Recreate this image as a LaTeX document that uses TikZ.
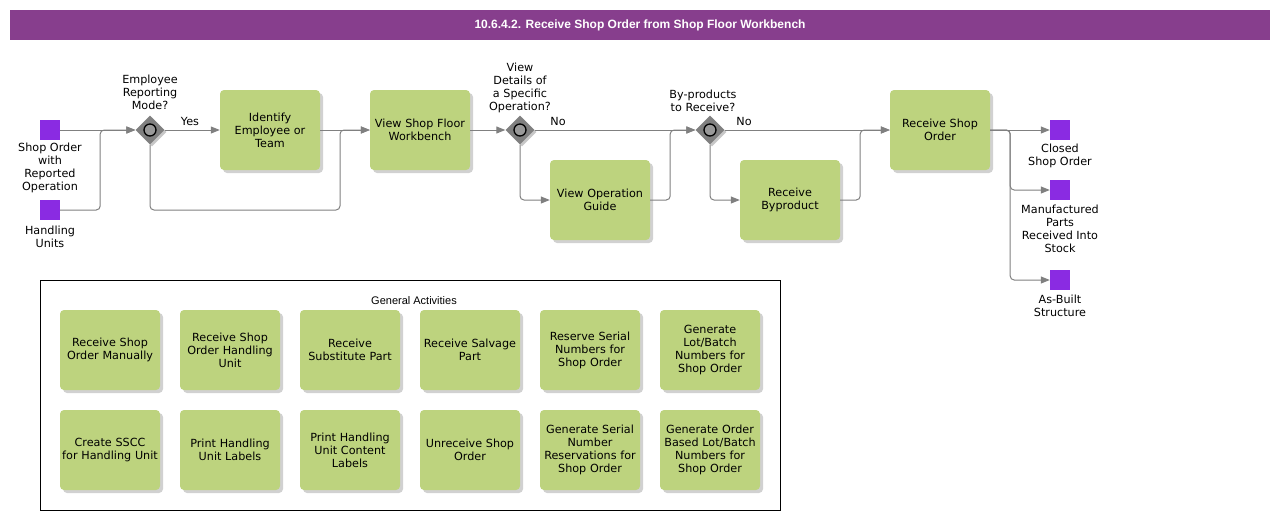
\documentclass[tikz,border=0pt]{standalone}
\usepackage{fontspec}
\setmainfont{DejaVu Sans}
\newfontfamily\arialf{Liberation Sans}
\usetikzlibrary{arrows.meta,shapes.geometric,shadows,calc}
\definecolor{titlebar}{RGB}{135,62,141}
\definecolor{taskgreen}{RGB}{189,211,126}
\definecolor{dataviolet}{RGB}{138,43,226}
\definecolor{flowgray}{RGB}{128,128,128}
\begin{document}
\begin{tikzpicture}[x=1pt,y=-1pt,
  every node/.style={font=\fontsize{11.2}{13}\selectfont},
  task/.style={rectangle,rounded corners=4pt,fill=taskgreen,minimum width=100pt,minimum height=80pt,
    text width=98pt,inner sep=1pt,align=center,
    drop shadow={shadow xshift=3pt,shadow yshift=-3pt,fill=black,opacity=0.18}},
  dataobj/.style={rectangle,fill=dataviolet,minimum size=20pt,inner sep=0pt},
  gate/.style={diamond,fill=flowgray,minimum size=29pt,inner sep=0pt,aspect=1,
    drop shadow={shadow xshift=2pt,shadow yshift=-2pt,fill=black,opacity=0.22}},
  gatemark/.style={circle,draw=black,line width=1.3pt,fill=gray!80,minimum size=12pt,inner sep=0pt},
  flow/.style={draw=flowgray,line width=1pt,rounded corners=4pt,-{Triangle[length=9pt,width=7pt]}},
  lbl/.style={align=center,inner sep=0pt}
]
\useasboundingbox (0,0) rectangle (1280,520);
% title
\fill[titlebar] (10,10) rectangle (1270,40);
\node[text=white,font=\arialf\bfseries\fontsize{12}{14}\selectfont] (title) at (640,25) {10.6.4.2. Receive Shop Order from Shop Floor Workbench};

% inputs
\node[dataobj] (in1) at (50,130) {};
\node[lbl,anchor=north] (in1l) at ($(in1.south)+(0,3)$) {Shop Order\\with\\Reported\\Operation};
\node[dataobj] (in2) at (50,210) {};
\node[lbl,anchor=north] (in2l) at ($(in2.south)+(0,6)$) {Handling\\Units};

% gateways
\node[gate] (g1) at (150,130) {};
\node[gatemark] (g1m) at (g1) {};
\node[lbl,anchor=south] (g1l) at ($(g1.north)+(0,-5)$) {Employee\\Reporting\\Mode?};
\node[gate] (g2) at (520,130) {};
\node[gatemark] (g2m) at (g2) {};
\node[lbl,anchor=south] (g2l) at ($(g2.north)+(0,-2)$) {View\\Details of\\a Specific\\Operation?};
\node[gate] (g3) at (710,130) {};
\node[gatemark] (g3m) at (g3) {};
\node[lbl,anchor=south] (g3l) at ($(g3.north)+(-7,-3)$) {By-products\\to Receive?};

% tasks
\node[task] (id) at (270,130) {Identify\\Employee or\\Team};
\node[task] (vsf) at (420,130) {View Shop Floor\\Workbench};
\node[task] (vog) at (600,200) {View Operation\\Guide};
\node[task] (rb) at (790,200) {Receive\\Byproduct};
\node[task] (rso) at (940,130) {Receive Shop\\Order};

% outputs
\node[dataobj] (o1) at (1060,130) {};
\node[lbl,anchor=north] (o1l) at ($(o1.south)+(0,4)$) {Closed\\Shop Order};
\node[dataobj] (o2) at (1060,190) {};
\node[lbl,anchor=north] (o2l) at ($(o2.south)+(0,5)$) {Manufactured\\Parts\\Received Into\\Stock};
\node[dataobj] (o3) at (1060,280) {};
\node[lbl,anchor=north] (o3l) at ($(o3.south)+(0,5)$) {As-Built\\Structure};

% flow labels
\node[lbl] (yes) at (190,121) {Yes};
\node[lbl] (no1) at (558,121) {No};
\node[lbl] (no2) at (744,121) {No};

% connectors
\coordinate (j1) at (340,210);
\draw[flow] (in1.east) -- (g1.west);
\draw[flow] (in2.east) -- ++(40,0) |- (g1.west);
\draw[flow] (g1.east) -- (id.west);
\draw[flow] (g1.south) |- (j1) |- (vsf.west);
\draw[flow] (id.east) -- (vsf.west);
\draw[flow] (vsf.east) -- (g2.west);
\draw[flow] (g2.east) -- (g3.west);
\draw[flow] (g2.south) |- (vog.west);
\draw[flow] (vog.east) -- ++(20,0) |- (g3.west);
\draw[flow] (g3.east) -- (rso.west);
\draw[flow] (g3.south) |- (rb.west);
\draw[flow] (rb.east) -- ++(20,0) |- (rso.west);
\draw[flow] (rso.east) -- (o1.west);
\draw[flow] (rso.east) -- ++(20,0) |- (o2.west);
\draw[flow] (rso.east) -- ++(20,0) |- (o3.west);

% general activities
\node[draw=black,line width=1pt,minimum width=740pt,minimum height=230pt,inner sep=0pt] (gbox) at (410,395) {};
\node[font=\arialf\fontsize{11}{13}\selectfont,inner sep=0pt] (gtitle) at (414,301) {General Activities};
\node[task] (a1) at (110,350) {Receive Shop\\Order Manually};
\node[task] (a2) at (230,350) {Receive Shop\\Order Handling\\Unit};
\node[task] (a3) at (350,350) {Receive\\Substitute Part};
\node[task] (a4) at (470,350) {Receive Salvage\\Part};
\node[task] (a5) at (590,350) {Reserve Serial\\Numbers for\\Shop Order};
\node[task] (a6) at (710,350) {Generate\\Lot/Batch\\Numbers for\\Shop Order};
\node[task] (b1) at (110,450) {Create SSCC\\for Handling Unit};
\node[task] (b2) at (230,450) {Print Handling\\Unit Labels};
\node[task] (b3) at (350,450) {Print Handling\\Unit Content\\Labels};
\node[task] (b4) at (470,450) {Unreceive Shop\\Order};
\node[task] (b5) at (590,450) {Generate Serial\\Number\\Reservations for\\Shop Order};
\node[task] (b6) at (710,450) {Generate Order\\Based Lot/Batch\\Numbers for\\Shop Order};
\end{tikzpicture}
\end{document}
